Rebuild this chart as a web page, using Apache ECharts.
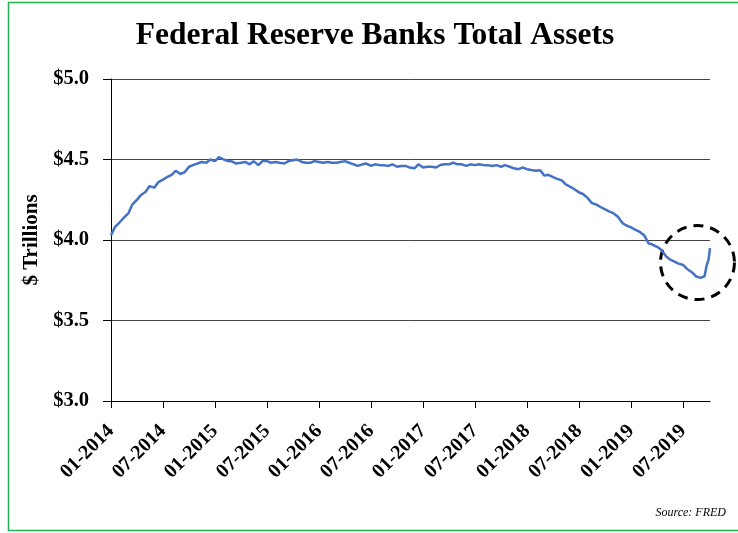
<!DOCTYPE html>
<html>
<head>
<meta charset="utf-8">
<script src="https://cdn.jsdelivr.net/npm/echarts@6/dist/echarts.min.js"></script>
<style>
  html, body { margin: 0; padding: 0; background: #fff; }
  #chart { width: 738px; height: 533px; }
</style>
</head>
<body>
<div id="chart"></div>
<script>
const assets = [
  4.03, 4.08, 4.11, 4.14, 4.165, 4.22, 4.25, 4.28, 4.30, 4.335, 4.325, 4.36,
  4.375, 4.39, 4.405, 4.43, 4.41, 4.42, 4.455, 4.465, 4.475, 4.485, 4.48, 4.50,
  4.49, 4.515, 4.50, 4.49, 4.487, 4.475, 4.48, 4.485, 4.47, 4.49, 4.465, 4.49,
  4.49, 4.48, 4.485, 4.48, 4.475, 4.49, 4.495, 4.50, 4.485, 4.48, 4.48, 4.49,
  4.485, 4.48, 4.485, 4.48, 4.48, 4.485, 4.49, 4.48, 4.47, 4.46, 4.47, 4.475,
  4.46, 4.47, 4.465, 4.465, 4.46, 4.47, 4.455, 4.46, 4.46, 4.45, 4.445, 4.47,
  4.45, 4.455, 4.455, 4.45, 4.466, 4.47, 4.47, 4.48, 4.47, 4.47, 4.46, 4.47,
  4.465, 4.47, 4.465, 4.465, 4.46, 4.465, 4.455, 4.465, 4.455, 4.445, 4.44, 4.45,
  4.44, 4.435, 4.43, 4.433, 4.40, 4.405, 4.39, 4.38, 4.37, 4.345, 4.33, 4.315,
  4.295, 4.286, 4.26, 4.23, 4.22, 4.205, 4.19, 4.178, 4.165, 4.145, 4.105, 4.09,
  4.078, 4.065, 4.05, 4.03, 3.98, 3.972, 3.958, 3.94, 3.90, 3.88, 3.865, 3.853,
  3.845, 3.82, 3.80, 3.775, 3.765, 3.775
];
// the jump at the very end, weekly
const tailDates = ["2019-09-22", "2019-09-29", "2019-10-04"];
const tailAssets = [3.84, 3.88, 3.95];

const yTicks = [3.0, 3.5, 4.0, 4.5, 5.0];
const startYear = 2014;

// date -> months since 01-2014
function monthPos(str) {
  const p = str.split("-").map(Number);
  const dim = new Date(p[0], p[1], 0).getDate();
  return (p[0] - startYear) * 12 + (p[1] - 1) + (p[2] - 1) / dim;
}

let points = [];
assets.forEach((v, i) => {
  const m = Math.floor(i / 2);
  const y = startYear + Math.floor(m / 12);
  const mm = String((m % 12) + 1).padStart(2, "0");
  const d = i % 2 === 0 ? "01" : "15";
  points.push([monthPos(y + "-" + mm + "-" + d), v]);
});
tailDates.forEach((d, i) => {
  points.push([monthPos(d), tailAssets[i]]);
});

const serif = "'Liberation Serif', 'DejaVu Serif', serif";
const chart = echarts.init(document.getElementById("chart"));

chart.setOption({
  animation: false,
  title: {
    text: "Federal Reserve Banks Total Assets",
    left: 370,
    textAlign: "center",
    top: 15,
    textStyle: { fontFamily: serif, fontWeight: "bold", fontSize: 31.5, color: "#000" },
  },
  grid: { left: 111, right: 28, top: 79, bottom: 132 },
  xAxis: {
    type: "value",
    min: 0,
    max: points[points.length - 1][0],
    interval: 6,
    splitLine: { show: false },
    axisLine: { lineStyle: { color: "#000", width: 1 } },
    axisTick: { length: 7, lineStyle: { color: "#000" } },
    axisLabel: {
      rotate: 45,
      margin: 27,
      fontFamily: serif,
      fontWeight: "bold",
      fontSize: 20,
      color: "#000",
      showMaxLabel: false,
      formatter: (v) => {
        if (v % 6 !== 0) return "";
        const y = startYear + Math.floor(v / 12);
        const mm = String((v % 12) + 1).padStart(2, "0");
        return mm + "-" + y;
      },
    },
  },
  yAxis: {
    type: "value",
    min: yTicks[0],
    max: yTicks[yTicks.length - 1],
    interval: 0.5,
    name: "$ Trillions",
    nameLocation: "middle",
    nameGap: 63,
    nameTextStyle: { fontFamily: serif, fontWeight: "bold", fontSize: 21, color: "#000" },
    axisLine: { show: true, lineStyle: { color: "#000", width: 1 } },
    axisTick: { show: true, length: 8, lineStyle: { color: "#000" } },
    splitLine: { lineStyle: { color: "#444", width: 1 } },
    axisLabel: {
      margin: 22,
      fontFamily: serif,
      fontWeight: "bold",
      fontSize: 20.5,
      color: "#000",
      formatter: (v) => "$" + v.toFixed(1),
    },
  },
  series: [
    {
      type: "line",
      data: points,
      showSymbol: false,
      lineStyle: { color: "#4472C4", width: 2.5 },
    },
  ],
});

// dashed circle round the end of the line
const c = chart.convertToPixel({ gridIndex: 0 }, [67.65, 3.86]);
chart.setOption({
  graphic: [
    {
      type: "rect",
      shape: { x: 8.5, y: 2.5, width: 740, height: 528 },
      style: { fill: "none", stroke: "#22b14c", lineWidth: 1.5 },
      silent: true,
    },
    {
      type: "circle",
      shape: { cx: c[0], cy: c[1], r: 37 },
      style: { fill: "none", stroke: "#000", lineWidth: 3, lineDash: [10, 7] },
      silent: true,
    },
    {
      type: "text",
      right: 12,
      bottom: 14,
      style: {
        text: "Source: FRED",
        fontFamily: serif,
        fontStyle: "italic",
        fontSize: 12,
        fill: "#000",
      },
    },
  ],
});
</script>
</body>
</html>
